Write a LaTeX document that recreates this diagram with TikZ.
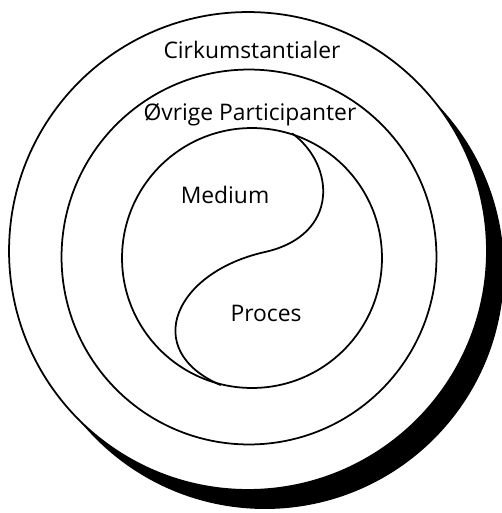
\documentclass[tikz,border=0pt]{standalone}
\usepackage{fontspec}
\setmainfont{Open Sans}
\usepackage{tikz}
\usetikzlibrary{positioning, calc}
\tikzset{
	ring/.style     ={circle, draw=black, line width=1pt, fill=white, inner sep=0pt},
	shade/.style    ={circle, fill=black, draw=none, inner sep=0pt},
	lbl/.style      ={inner sep=1pt, align=center},
	divider/.style  ={line width=1pt, line cap=round},
}

\begin{document}
\begin{tikzpicture}[x=0.02cm, y=-0.02cm, font=\fontsize{13}{15}\selectfont]
	\useasboundingbox (0,0) rectangle (502,513);
	% shadow behind the outer ring
	\node[shade, minimum size=9.56cm] (sh) at (265,270) {};
	\node[ring, minimum size=9.56cm]  (outer) at (248,251) {};
	\node[ring, minimum size=7.5cm]   (middle) at (249,257) {};
	\node[ring, minimum size=5.2cm]   (inner) at (252,258) {};
	% the S between medium and process
	\coordinate (stop) at (inner.72);
	\coordinate (sbot) at (inner.256);
	\coordinate (smid) at (265,252);
	\draw[divider] (stop) .. controls (335,165) and (340,235) .. (smid)
		.. controls (175,272) and (140,350) .. (sbot);
	\node[lbl] (cirk) at (252,50)  {Cirkumstantialer};
	\node[lbl] (part) at (250,115) {Øvrige Participanter};
	\node[lbl] (med)  at (225,195) {Medium};
	\node[lbl] (proc) at (266,313) {Proces};
\end{tikzpicture}
\end{document}
